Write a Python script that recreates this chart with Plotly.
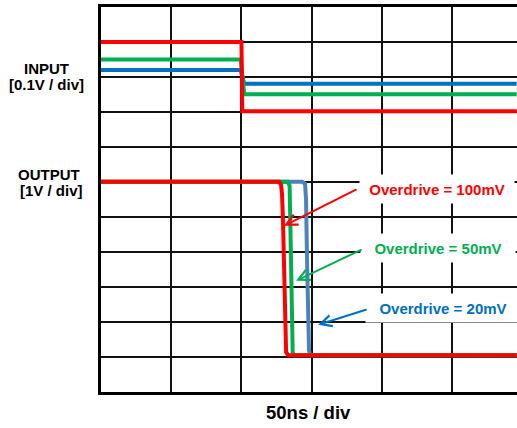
import plotly.graph_objects as go

# x in ns (50 ns / div), y in screen divisions (0 = bottom grid line, 11 = top)
in_x = [0, 100, 100.6, 296]
in_red = [10.0, 10.0, 8.02, 8.02]
in_x_g = [0, 99.5, 102, 296]
in_green = [9.5, 9.5, 8.51, 8.51]
in_blue = [9.2, 9.2, 8.81, 8.81]

out_red_x = [0, 126.8, 128.2, 128.9, 129.6, 130.3, 131.0, 131.4, 131.8, 133.2, 296]
out_red_y = [6.01, 6.01, 5.92, 5.65, 4.87, 3.78, 2.64, 1.49, 1.14, 1.05, 1.05]
out_green_x = [0, 132.9, 134.3, 134.7, 135.0, 135.8, 136.5, 137.9, 296]
out_green_y = [6.01, 6.01, 5.9, 4.92, 3.2, 1.49, 1.12, 1.05, 1.05]
out_blue_x = [0, 143.2, 145.3, 146.0, 146.7, 147.4, 148.1, 148.8, 296]
out_blue_y = [6.01, 6.01, 5.95, 5.49, 3.78, 2.06, 1.2, 1.05, 1.05]

labels = ["Overdrive = 100mV", "Overdrive = 50mV", "Overdrive = 20mV"]
label_colors = ["#FF0000", "#00B050", "#0070C0"]
label_x = [239.3, 239.7, 243.2]
label_y = [5.81, 4.12, 2.39]
arrow_tail_x = [183.0, 186.6, 190.2]
arrow_tail_y = [5.81, 4.09, 2.37]
arrow_head_x = [130.3, 138.9, 154.6]
arrow_head_y = [4.75, 3.18, 1.92]

RED, GREEN, BLUE_IN, BLUE_OUT = "#FF0000", "#00B050", "#0070C0", "#4F81BD"

fig = go.Figure()
fig.add_trace(go.Scatter(x=in_x_g, y=in_blue, mode="lines", line=dict(color=BLUE_IN, width=4)))
fig.add_trace(go.Scatter(x=in_x_g, y=in_green, mode="lines", line=dict(color=GREEN, width=4)))
fig.add_trace(go.Scatter(x=in_x, y=in_red, mode="lines", line=dict(color=RED, width=4)))
fig.add_trace(go.Scatter(x=out_blue_x, y=out_blue_y, mode="lines", line=dict(color=BLUE_OUT, width=4)))
fig.add_trace(go.Scatter(x=out_green_x, y=out_green_y, mode="lines", line=dict(color=GREEN, width=4)))
fig.add_trace(go.Scatter(x=out_red_x, y=out_red_y, mode="lines", line=dict(color=RED, width=4)))

font = "Liberation Sans, Arial, sans-serif"
for i in range(3):
    fig.add_annotation(x=label_x[i], y=label_y[i], xref="x", yref="y", text="<b>%s</b>" % labels[i],
                       showarrow=False, font=dict(family=font, size=15, color=label_colors[i]),
                       bgcolor="white", width=150, height=24, borderpad=2)
    fig.add_annotation(x=arrow_head_x[i], y=arrow_head_y[i], ax=arrow_tail_x[i], ay=arrow_tail_y[i],
                       xref="x", yref="y", axref="x", ayref="y", text="", showarrow=True,
                       arrowhead=5, arrowsize=1.1, arrowwidth=2, arrowcolor=label_colors[i])

for txt, xx, yy, sz in [("<b>INPUT</b>", 47, 68, 15), ("<b>[0.1V / div]</b>", 46, 85, 15),
                        ("<b>OUTPUT</b>", 49, 174, 15), ("<b>[1V / div]</b>", 51, 190, 15),
                        ("<b>50ns / div</b>", 308, 413, 18.5)]:
    fig.add_annotation(x=xx, y=yy, xref="paper", yref="paper", text=txt, showarrow=False,
                       xanchor="center", yanchor="middle",
                       font=dict(family=font, size=sz, color="black"))

# convert pixel-positioned annotations to paper coords
W, H = 517, 428
ml, mr, mt, mb = 101, 0, 7, 36
pw, ph = W - ml - mr, H - mt - mb
for a in fig.layout.annotations:
    if a.xref == "paper":
        a.x = (a.x - ml) / pw
        a.y = (H - mb - a.y) / ph

fig.update_layout(
    width=W, height=H, margin=dict(l=ml, r=mr, t=mt, b=mb),
    paper_bgcolor="white", plot_bgcolor="white", showlegend=False,
)
fig.update_xaxes(range=[0, 296.2], dtick=50, tick0=0, showgrid=True, gridcolor="#111", gridwidth=1.5,
                 showticklabels=False, ticks="", zeroline=False, showline=True, linecolor="black",
                 linewidth=2.5, mirror=True)
fig.update_yaxes(range=[0, 11], dtick=1, tick0=0, showgrid=True, gridcolor="#111", gridwidth=1.5,
                 showticklabels=False, ticks="", zeroline=False, showline=True, linecolor="black",
                 linewidth=2.5, mirror=False)

fig.write_html("out.html", config={"displayModeBar": False},
               post_script="document.body.style.margin='0';document.body.style.overflow='hidden';")
